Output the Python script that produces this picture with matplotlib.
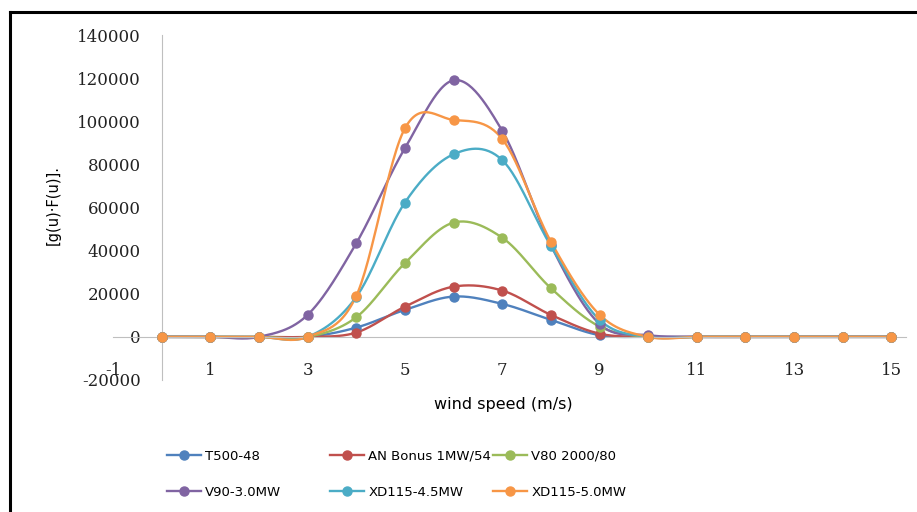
import numpy as np
import matplotlib
matplotlib.use('Agg')
import matplotlib.pyplot as plt
from matplotlib.lines import Line2D

# vitesse du vent (m/s)
wind_speed = list(range(0, 16))

# valeurs [g(u)*F(u)]
t500_48 = [0, 0, 0, 0, 4300, 12500, 18700, 15300, 7900, 800, 0, 0, 0, 0, 0, 0]
an_bonus = [0, 0, 0, 0, 2000, 14000, 23300, 21500, 10200, 1500, 0, 0, 0, 0, 0, 0]
v80 = [0, 0, 0, 0, 9100, 34200, 53000, 46000, 22600, 4800, 0, 0, 0, 0, 0, 0]
v90 = [0, 0, 0, 10200, 43400, 87500, 119000, 95600, 42500, 6000, 800, 0, 0, 0, 0, 0]
xd115_45 = [0, 0, 0, 0, 18500, 62300, 84700, 82000, 42200, 7900, 0, 0, 0, 0, 0, 0]
xd115_50 = [0, 0, 0, 0, 19000, 96700, 100600, 91800, 44200, 10300, 0, 0, 0, 0, 0, 0]

labels = ['T500-48', 'AN Bonus 1MW/54', 'V80 2000/80',
          'V90-3.0MW', 'XD115-4.5MW', 'XD115-5.0MW']
colors = ['#4F81BD', '#C0504D', '#9BBB59', '#8064A2', '#4BACC6', '#F79646']
series = [t500_48, an_bonus, v80, v90, xd115_45, xd115_50]


def smooth(x, y, n=30):
    # lissage type Excel (bezier, controle a 1/6 des voisins)
    p = np.column_stack([x, y]).astype(float)
    ext = np.vstack([p[0], p, p[-1]])
    out = []
    t = np.linspace(0, 1, n)[:, None]
    for i in range(len(p) - 1):
        p0, p3 = ext[i + 1], ext[i + 2]
        c1 = p0 + (ext[i + 2] - ext[i]) / 6.0
        c2 = p3 - (ext[i + 3] - ext[i + 1]) / 6.0
        seg = ((1 - t) ** 3) * p0 + 3 * ((1 - t) ** 2) * t * c1 + 3 * (1 - t) * t ** 2 * c2 + t ** 3 * p3
        out.append(seg if i == 0 else seg[1:])
    out = np.vstack(out)
    return out[:, 0], out[:, 1]


W, H = 917, 512
fig = plt.figure(figsize=(W / 100, H / 100), dpi=100)
ax = fig.add_axes([113 / W, 1 - 380 / H, (906 - 113) / W, (380 - 35) / H])

for vals, col in zip(series, colors):
    sx, sy = smooth(wind_speed, vals)
    ax.plot(sx, sy, color=col, lw=1.7, zorder=2)
    ax.plot(wind_speed, vals, 'o', color=col, ms=6.5, zorder=3)

ax.set_xlim(-1, 15.3)
ax.set_ylim(-20000, 140000)
ax.set_xticks(range(-1, 16, 2))
ax.set_yticks(range(-20000, 140001, 20000))
ax.set_xticklabels([str(v) for v in range(-1, 16, 2)])
ax.set_yticklabels([str(v) for v in range(-20000, 140001, 20000)])

for side in ['top', 'right']:
    ax.spines[side].set_visible(False)
ax.spines['left'].set_position(('data', 0))
ax.spines['bottom'].set_position(('data', 0))
for side in ['left', 'bottom']:
    ax.spines[side].set_color('#BFBFBF')
    ax.spines[side].set_linewidth(0.8)

ax.tick_params(axis='y', length=0, pad=15, labelsize=12)
ax.tick_params(axis='x', length=0, pad=18, labelsize=12)
for lab in ax.get_xticklabels() + ax.get_yticklabels():
    lab.set_fontfamily('DejaVu Serif')
    lab.set_color('#222222')

fig.text(503 / W, 1 - 404 / H, 'wind speed (m/s)', ha='center', va='center',
         fontsize=11.5, family='DejaVu Sans')
fig.text(53 / W, 1 - 205 / H, '[g(u)\u00b7F(u)].', ha='center', va='center',
         rotation=90, fontsize=10.5, family='DejaVu Sans')

# legende : colonnes a largeur fixe comme dans Excel
leg_x = [167, 330, 493]
leg_y = [456, 492]
for k, (lab, col) in enumerate(zip(labels, colors)):
    h = Line2D([], [], color=col, lw=1.7, marker='o', ms=6.5)
    x0 = leg_x[k % 3] / W
    y0 = 1 - leg_y[k // 3] / H
    fig.legend([h], [lab], loc='center left', bbox_to_anchor=(x0, y0),
               frameon=False, handlelength=2.6, handletextpad=0.3,
               borderpad=0, borderaxespad=0,
               prop={'family': 'DejaVu Sans', 'size': 9.5})

# cadre noir (gauche et haut)
fig.add_artist(Line2D([9.5 / W, 9.5 / W], [0, 1 - 11.5 / H], color='black', lw=2.2,
                      transform=fig.transFigure, solid_capstyle='projecting'))
fig.add_artist(Line2D([9.5 / W, 1], [1 - 11.5 / H, 1 - 11.5 / H], color='black', lw=2.2,
                      transform=fig.transFigure, solid_capstyle='projecting'))

fig.savefig('out.png', dpi=100)
